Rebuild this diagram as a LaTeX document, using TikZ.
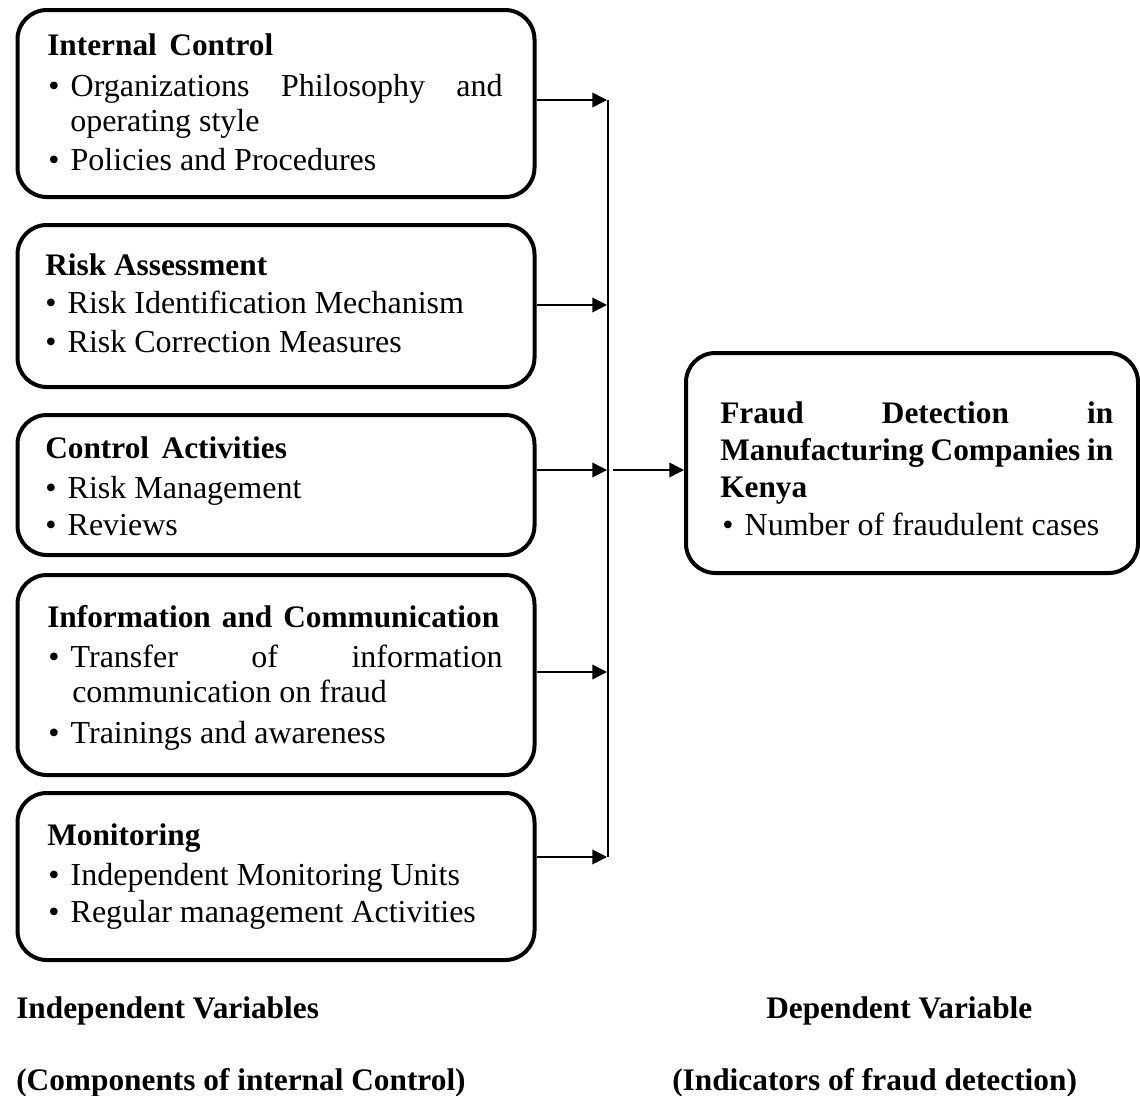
\documentclass[tikz,border=0pt]{standalone}
\usepackage{fontspec}
\setmainfont{Liberation Serif}
\usetikzlibrary{arrows.meta}
\begin{document}
\begin{tikzpicture}[x=0.75pt,y=-0.75pt,
 box/.style={draw,line width=3pt,rounded corners=22pt,inner sep=0pt},
 txt/.style={anchor=base west,inner sep=0pt,font=\fontsize{24}{28}\selectfont},
 hd/.style={anchor=base west,inner sep=0pt,font=\fontsize{23.5}{28}\selectfont\bfseries},
 arr/.style={line width=1.1pt,-{Triangle[length=11pt,width=11pt]}},
 ln/.style={line width=1.1pt}]
\useasboundingbox (0,0) rectangle (1140,1096);
% boxes
\node[box,minimum width=387.75pt,minimum height=140.25pt] (b1) at (276,103.5) {};
\node[box,minimum width=387.75pt,minimum height=121.5pt] (b2) at (276,306) {};
\node[box,minimum width=387.75pt,minimum height=105pt] (b3) at (276,485) {};
\node[box,minimum width=387.75pt,minimum height=150pt] (b4) at (276,675) {};
\node[box,minimum width=387.75pt,minimum height=125.25pt] (b5) at (276,876.5) {};
\node[box,minimum width=339pt,minimum height=165pt] (f) at (912,463) {};
% box 1
\node[hd] (t11) at (47,55) {Internal\hspace{0.15em} Control};
\node[txt] (t12) at (48,96) {\textbullet\hspace{0.35em}\makebox[324pt][s]{Organizations Philosophy and}};
\node[txt] (t13) at (70,131) {operating style};
\node[txt] (t14) at (48,170) {\textbullet\hspace{0.35em}Policies and Procedures};
% box 2
\node[hd] (t21) at (45,275) {Risk Assessment};
\node[txt] (t22) at (45,313) {\textbullet\hspace{0.35em}Risk Identification Mechanism};
\node[txt] (t23) at (45,352) {\textbullet\hspace{0.35em}Risk Correction Measures};
% box 3
\node[hd] (t31) at (45,458) {Control\hspace{0.15em} Activities};
\node[txt] (t32) at (45,498) {\textbullet\hspace{0.35em}Risk Management};
\node[txt] (t33) at (45,535) {\textbullet\hspace{0.35em}Reviews};
% box 4
\node[hd] (t41) at (47,627) {Information\hspace{0.1em} and\hspace{0.1em} Communication};
\node[txt] (t42) at (48,667) {\textbullet\hspace{0.35em}\makebox[324pt][s]{Transfer of information}};
\node[txt] (t43) at (72,702) {communication on fraud};
\node[txt] (t44) at (48,743) {\textbullet\hspace{0.35em}Trainings and awareness};
% box 5
\node[hd] (t51) at (47,845) {Monitoring};
\node[txt] (t52) at (48,885) {\textbullet\hspace{0.35em}Independent Monitoring Units};
\node[txt] (t53) at (48,922) {\textbullet\hspace{0.35em}Regular management Activities};
% right box
\node[hd] (f1) at (720,423) {\makebox[294.75pt][s]{Fraud Detection in}};
\node[hd] (f2) at (720,460) {\makebox[294.75pt][s]{Manufacturing Companies in}};
\node[hd] (f3) at (720,497) {Kenya};
\node[txt] (f4) at (722,535) {\textbullet\hspace{0.35em}Number of fraudulent cases};
% bottom labels
\node[hd] (l1) at (16,1018) {Independent Variables};
\node[hd] (l2) at (766,1018) {Dependent Variable};
\node[hd] (l3) at (16,1090) {(Components of internal Control)};
\node[hd] (l4) at (672,1090) {(Indicators of fraud detection)};
% connectors
\coordinate (j1) at (607,100);
\coordinate (j2) at (607,305);
\coordinate (j3) at (607,470);
\coordinate (j4) at (607,672);
\coordinate (j5) at (607,857);
\coordinate (s3) at (613,470);
\draw[arr] (b1.east |- j1) -- (j1);
\draw[arr] (b2.east |- j2) -- (j2);
\draw[arr] (b3.east |- j3) -- (j3);
\draw[arr] (b4.east |- j4) -- (j4);
\draw[arr] (b5.east |- j5) -- (j5);
\draw[ln] ([xshift=0.75pt]j1) -- ([xshift=0.75pt]j5);
\draw[arr] (s3) -- (f.west |- s3);
\end{tikzpicture}
\end{document}
